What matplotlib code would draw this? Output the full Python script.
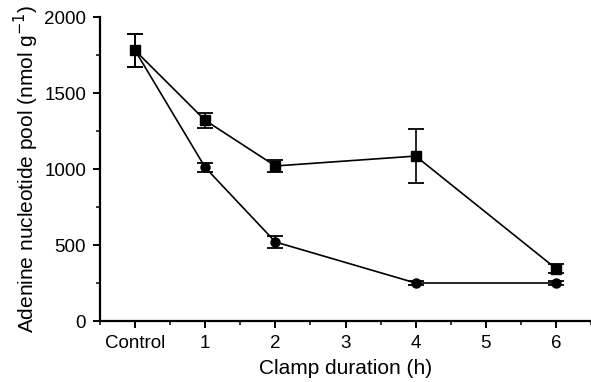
import numpy as np
import matplotlib
matplotlib.use("Agg")
import matplotlib.pyplot as plt
from matplotlib.ticker import MultipleLocator

# x positions: 0 = Control, then clamp hours
x_sq = [0, 1, 2, 4, 6]
y_sq = [1780, 1320, 1020, 1085, 345]
e_sq = [110, 50, 42, 180, 30]

x_ci = [0, 1, 2, 4, 6]
y_ci = [1780, 1010, 520, 250, 250]
e_ci = [110, 28, 42, 14, 14]

xtick_pos = [0, 1, 2, 3, 4, 5, 6]
xtick_lab = ["Control", "1", "2", "3", "4", "5", "6"]

plt.rcParams['font.family'] = ['Liberation Sans', 'DejaVu Sans']

fig = plt.figure(figsize=(5.91, 3.82), dpi=100)
ax = fig.add_axes([100/591, 61/382, 491/591, 304/382])

ax.errorbar(x_sq, y_sq, yerr=e_sq, color='black', marker='s', markersize=6.5,
            lw=1.2, elinewidth=1.2, capsize=6, capthick=1.3)
ax.errorbar(x_ci, y_ci, yerr=e_ci, color='black', marker='o', markersize=6.5,
            lw=1.2, elinewidth=1.2, capsize=6, capthick=1.3)

ax.set_xlim(-0.5, 6.5)
ax.set_ylim(0, 2000)
ax.set_xticks(xtick_pos)
ax.set_xticklabels(xtick_lab)
ax.xaxis.set_minor_locator(MultipleLocator(0.5))
ax.set_yticks([0, 500, 1000, 1500, 2000])
ax.yaxis.set_minor_locator(MultipleLocator(250))

for s in ['top', 'right']:
    ax.spines[s].set_visible(False)
for s in ['left', 'bottom']:
    ax.spines[s].set_linewidth(1.6)

ax.tick_params(which='major', direction='out', length=5, width=1.4, labelsize=13.5, pad=5)
ax.tick_params(which='minor', direction='out', length=3, width=1.1)

ax.set_xlabel('Clamp duration (h)', fontsize=15, labelpad=5)
ax.set_ylabel('Adenine nucleotide pool (nmol g$^{-1}$)', fontsize=15, labelpad=2)

fig.savefig('out.png', dpi=100)
